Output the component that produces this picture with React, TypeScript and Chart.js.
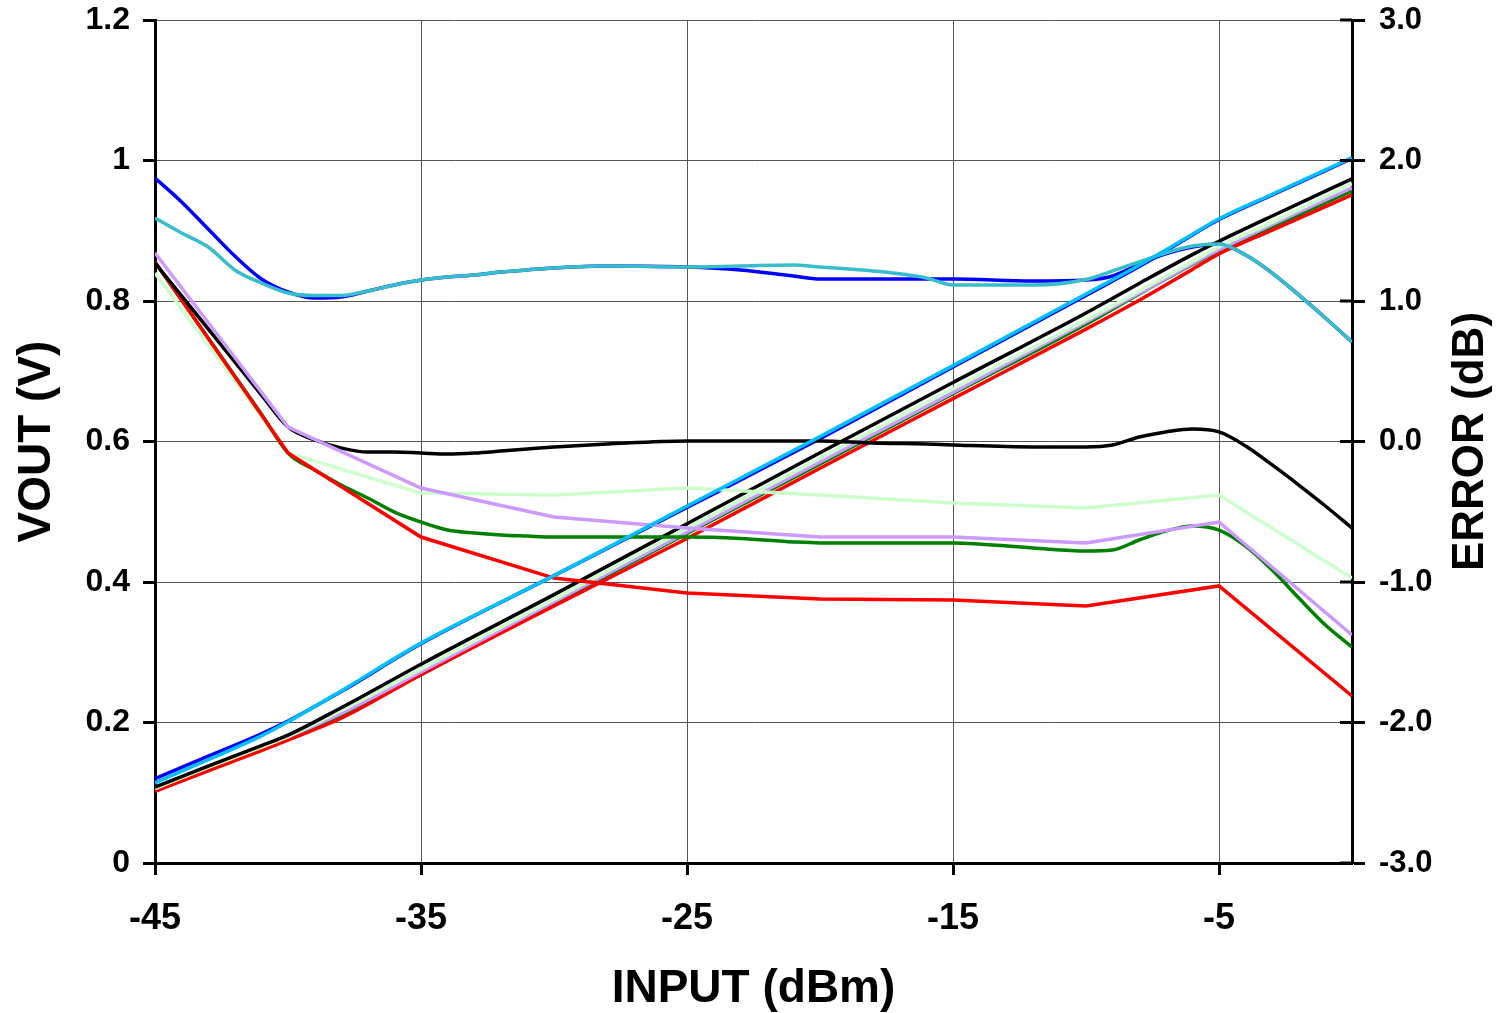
import React, { useEffect, useRef } from "react";
import { Chart, registerables } from "chart.js";

Chart.register(...registerables);

// ---------- data ----------
const X_TICKS = [-45, -35, -25, -15, -5];

// VOUT (V), left axis
const X_VOUT = [-45, -43, -41, -40, -38, -35, -30, -25, -20, -15, -10, -8, -6, -5, -3, 0];
const VOUT_CYAN = [0.114, 0.147, 0.181, 0.201, 0.245, 0.313, 0.409, 0.508, 0.607, 0.708, 0.81, 0.851, 0.895, 0.917, 0.952, 1.004];
const VOUT_BLUE = [0.12, 0.152, 0.184, 0.202, 0.244, 0.312, 0.409, 0.506, 0.604, 0.706, 0.808, 0.849, 0.894, 0.916, 0.951, 1.003];
const VOUT_BLACK = [0.108, 0.138, 0.167, 0.182, 0.221, 0.283, 0.382, 0.483, 0.584, 0.684, 0.783, 0.825, 0.866, 0.885, 0.921, 0.974];
const VOUT_LGREEN = [0.106, 0.136, 0.165, 0.18, 0.217, 0.276, 0.375, 0.476, 0.576, 0.675, 0.773, 0.814, 0.856, 0.877, 0.912, 0.967];
const VOUT_PURPLE = [0.108, 0.137, 0.166, 0.18, 0.213, 0.272, 0.372, 0.471, 0.571, 0.67, 0.77, 0.811, 0.853, 0.873, 0.909, 0.961];
const VOUT_GREEN = [0.105, 0.134, 0.163, 0.177, 0.209, 0.268, 0.369, 0.469, 0.568, 0.668, 0.767, 0.81, 0.852, 0.871, 0.905, 0.957];
const VOUT_RED = [0.102, 0.131, 0.16, 0.175, 0.206, 0.268, 0.366, 0.462, 0.562, 0.661, 0.76, 0.801, 0.845, 0.867, 0.901, 0.951];

// ERROR (dB), right axis
const X_FINE = [-45, -44, -43, -42, -41, -40, -39, -38, -37, -36, -35, -34, -33, -32, -31, -30, -28, -25, -23, -21, -20, -18, -16, -15, -12, -10, -9, -8, -7, -6, -5, -4, -3, -2, -1, 0];
const ERR_BLUE = [1.875, 1.705, 1.512, 1.32, 1.157, 1.064, 1.021, 1.028, 1.071, 1.114, 1.149, 1.171, 1.185, 1.206, 1.221, 1.235, 1.249, 1.242, 1.221, 1.178, 1.157, 1.157, 1.157, 1.157, 1.142, 1.149, 1.178, 1.263, 1.335, 1.384, 1.406, 1.327, 1.199, 1.043, 0.879, 0.708];
const ERR_TEAL = [1.591, 1.484, 1.384, 1.221, 1.128, 1.057, 1.039, 1.039, 1.071, 1.114, 1.149, 1.171, 1.185, 1.206, 1.221, 1.235, 1.249, 1.242, 1.249, 1.256, 1.242, 1.214, 1.164, 1.114, 1.114, 1.153, 1.214, 1.278, 1.342, 1.391, 1.406, 1.327, 1.199, 1.043, 0.879, 0.708];
const ERR_BLACK = [1.27, 1.036, 0.801, 0.566, 0.331, 0.103, 0.011, -0.046, -0.075, -0.075, -0.082, -0.089, -0.082, -0.068, -0.053, -0.039, -0.018, 0.004, 0.004, 0.004, 0.004, -0.011, -0.018, -0.025, -0.039, -0.039, -0.025, 0.032, 0.068, 0.089, 0.068, -0.032, -0.167, -0.31, -0.459, -0.616];
const ERR_GREEN = [1.278, 1.007, 0.737, 0.466, 0.196, -0.082, -0.203, -0.31, -0.402, -0.502, -0.573, -0.63, -0.651, -0.665, -0.673, -0.68, -0.68, -0.68, -0.69, -0.715, -0.722, -0.722, -0.722, -0.722, -0.758, -0.779, -0.772, -0.701, -0.637, -0.601, -0.63, -0.744, -0.915, -1.114, -1.306, -1.463];

const X_COARSE = [-45, -40, -35, -30, -25, -20, -15, -10, -5, 0];
const ERR_RED = [1.278, -0.082, -0.68, -0.972, -1.078, -1.121, -1.128, -1.171, -1.028, -1.811];
const ERR_PURPLE = [1.342, 0.103, -0.331, -0.537, -0.616, -0.68, -0.68, -0.722, -0.573, -1.377];
const ERR_LGREEN = [1.199, -0.082, -0.367, -0.381, -0.331, -0.381, -0.438, -0.473, -0.381, -0.972];

// ---------- helpers ----------
const pts = (xs: number[], ys: number[]) => xs.map((x, i) => ({ x, y: ys[i] }));
const FONT = '"Liberation Sans", Arial, sans-serif';

const line = (label: string, xs: number[], ys: number[], color: string, axis: string, smooth: boolean) => ({
  label,
  data: pts(xs, ys),
  borderColor: color,
  backgroundColor: color,
  borderWidth: 3.5,
  pointRadius: 0,
  tension: 0,
  cubicInterpolationMode: smooth ? "monotone" : "default",
  fill: false,
  yAxisID: axis,
});

const extrasPlugin = {
  id: "extras",
  afterDraw(chart: any) {
    const { ctx, chartArea, scales } = chart;
    const y1 = scales.y1;
    ctx.save();
    ctx.strokeStyle = "#000";
    ctx.lineWidth = 3;
    y1.ticks.forEach((t: any) => {
      const py = y1.getPixelForValue(t.value);
      ctx.beginPath();
      ctx.moveTo(chartArea.right - 12, py);
      ctx.lineTo(chartArea.right, py);
      ctx.stroke();
    });
    ctx.translate(y1.right - 25, (chartArea.top + chartArea.bottom) / 2);
    ctx.rotate(-Math.PI / 2);
    ctx.font = `bold 44px ${FONT}`;
    ctx.textAlign = "center";
    ctx.textBaseline = "middle";
    ctx.fillStyle = "#000";
    ctx.fillText("ERROR (dB)", 0, 0);
    ctx.restore();
  },
};

export default function App() {
  const ref = useRef<HTMLCanvasElement | null>(null);

  useEffect(() => {
    document.body.style.margin = "0";
    if (!ref.current) return;
    const datasets = [
      line("VOUT cyan", X_VOUT, VOUT_CYAN, "#00BFFF", "y", true),
      line("ERR teal", X_FINE, ERR_TEAL, "#38BDCB", "y1", true),
      line("ERR purple", X_COARSE, ERR_PURPLE, "#CC99FF", "y1", false),
      line("ERR black", X_FINE, ERR_BLACK, "#000000", "y1", true),
      line("ERR red", X_COARSE, ERR_RED, "#FF0000", "y1", false),
      line("ERR green", X_FINE, ERR_GREEN, "#008000", "y1", true),
      line("ERR lightgreen", X_COARSE, ERR_LGREEN, "#CCFFCC", "y1", false),
      line("VOUT black", X_VOUT, VOUT_BLACK, "#000000", "y", true),
      line("VOUT lightgreen", X_VOUT, VOUT_LGREEN, "#CCFFCC", "y", true),
      line("VOUT purple", X_VOUT, VOUT_PURPLE, "#CC99FF", "y", true),
      line("VOUT red", X_VOUT, VOUT_RED, "#FF0000", "y", true),
      line("VOUT green", X_VOUT, VOUT_GREEN, "#008000", "y", true),
      line("ERR blue", X_FINE, ERR_BLUE, "#0000FF", "y1", true),
      line("VOUT blue", X_VOUT, VOUT_BLUE, "#0000FF", "y", true),
    ];

    const chart = new Chart(ref.current, {
      type: "line",
      data: { datasets },
      plugins: [extrasPlugin],
      options: {
        animation: false,
        responsive: false,
        devicePixelRatio: 1,
        layout: { padding: { top: 20, left: 0, right: 0, bottom: 0 } },
        plugins: { legend: { display: false }, tooltip: { enabled: false } },
        scales: {
          x: {
            type: "linear",
            min: -45,
            max: 0,
            afterBuildTicks: (scale: any) => {
              scale.ticks = X_TICKS.map((v) => ({ value: v }));
            },
            afterFit: (scale: any) => {
              scale.height = 150;
              scale.paddingLeft = 0;
              scale.paddingRight = 0;
            },
            ticks: {
              autoSkip: false,
              maxRotation: 0,
              padding: 22,
              color: "#000",
              font: { family: FONT, size: 36, weight: "bold", lineHeight: 1.2 },
              callback: (v: any) => String(v),
            },
            grid: {
              color: "#555",
              lineWidth: 1,
              tickLength: 12,
              tickWidth: 3,
              tickColor: "#000",
            },
            border: { display: true, color: "#000", width: 3 },
            title: {
              display: true,
              text: "INPUT (dBm)",
              color: "#000",
              font: { family: FONT, size: 46, weight: "bold", lineHeight: 1 },
              padding: { top: 0, bottom: 1 },
            },
          },
          y: {
            type: "linear",
            position: "left",
            min: 0,
            max: 1.2,
            afterFit: (scale: any) => {
              scale.width = 155;
              scale.paddingTop = 0;
              scale.paddingBottom = 0;
            },
            ticks: {
              stepSize: 0.2,
              padding: 13,
              color: "#000",
              font: { family: FONT, size: 32, weight: "bold" },
              callback: (v: any) => String(Math.round(Number(v) * 10) / 10),
            },
            grid: {
              color: "#555",
              lineWidth: 1,
              tickLength: 12,
              tickWidth: 3,
              tickColor: "#000",
            },
            border: { display: true, color: "#000", width: 3 },
            title: {
              display: true,
              text: "VOUT (V)",
              color: "#000",
              font: { family: FONT, size: 46, weight: "bold", lineHeight: 1 },
              padding: { top: 14, bottom: 0 },
            },
          },
          y1: {
            type: "linear",
            position: "right",
            min: -3,
            max: 3,
            afterFit: (scale: any) => {
              scale.width = 144;
              scale.paddingTop = 0;
              scale.paddingBottom = 0;
            },
            ticks: {
              stepSize: 1,
              padding: 14,
              color: "#000",
              font: { family: FONT, size: 31, weight: "bold" },
              callback: (v: any) => Number(v).toFixed(1),
            },
            grid: {
              drawOnChartArea: false,
              tickLength: 13,
              tickWidth: 3,
              tickColor: "#000",
            },
            border: { display: true, color: "#000", width: 3 },
          },
        },
      } as any,
    });
    return () => chart.destroy();
  }, []);

  return (
    <div style={{ position: "absolute", left: 0, top: 0, width: 1496, height: 1013, background: "#fff" }}>
      <canvas ref={ref} width={1496} height={1013} style={{ display: "block" }} />
    </div>
  );
}
